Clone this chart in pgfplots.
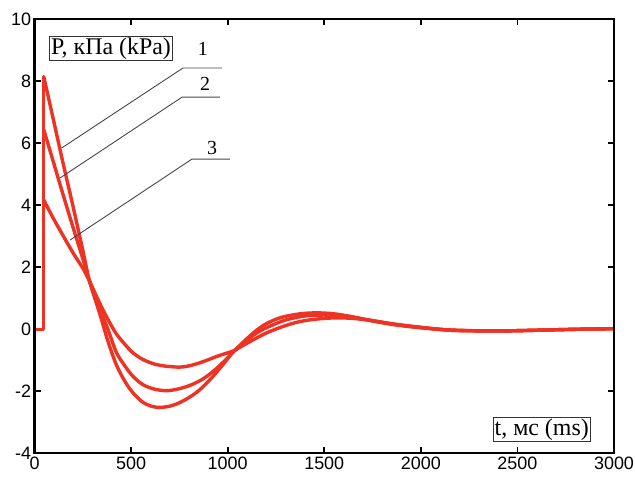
\documentclass[border=0pt]{standalone}
\usepackage{fontspec}
\setmainfont{Liberation Serif}
\setsansfont{Liberation Sans}
\usepackage{pgfplots}
\usepackage{pgfplotstable}
\pgfplotsset{compat=1.18}
\definecolor{curve}{RGB}{238,50,36}
\definecolor{callout}{RGB}{70,70,80}

\pgfplotstableread{
t P
48 8.15
100 6.70
150 5.30
200 3.95
250 2.55
285 1.55
337 0.52
380 -0.38
424 -1.15
470 -1.70
510 -2.05
560 -2.35
610 -2.49
650 -2.52
700 -2.48
750 -2.37
800 -2.20
850 -1.98
900 -1.68
950 -1.33
1000 -0.95
1029 -0.73
1100 -0.30
1150 -0.03
1200 0.18
1275 0.38
1375 0.50
1460 0.53
1550 0.50
1650 0.40
1750 0.27
1850 0.16
1950 0.08
2050 0.02
2150 -0.03
2300 -0.05
2450 -0.05
2600 -0.03
2800 0.00
3000 0.02
}\curveA

\pgfplotstableread{
t P
48 6.44
100 5.35
150 4.30
200 3.28
250 2.28
285 1.55
337 0.68
380 0.00
424 -0.75
470 -1.20
510 -1.52
560 -1.78
620 -1.93
683 -1.98
740 -1.93
800 -1.82
856 -1.66
900 -1.48
950 -1.22
1000 -0.92
1029 -0.73
1100 -0.35
1150 -0.12
1200 0.05
1300 0.30
1400 0.43
1500 0.46
1600 0.42
1700 0.33
1800 0.22
1900 0.13
2000 0.06
2150 -0.03
2300 -0.05
2450 -0.05
2600 -0.03
2800 0.00
3000 0.02
}\curveB

\pgfplotstableread{
t P
48 4.17
100 3.55
150 3.00
200 2.46
250 1.97
285 1.55
337 0.85
380 0.32
424 -0.15
470 -0.50
510 -0.76
560 -0.97
620 -1.12
680 -1.19
752 -1.22
800 -1.18
856 -1.08
900 -0.98
950 -0.86
1000 -0.76
1029 -0.70
1100 -0.45
1200 -0.12
1300 0.12
1375 0.25
1460 0.33
1560 0.37
1650 0.35
1750 0.28
1850 0.18
1950 0.10
2050 0.03
2150 -0.02
2300 -0.05
2450 -0.05
2600 -0.03
2800 0.00
3000 0.02
}\curveC

\begin{document}
\begin{tikzpicture}
\begin{axis}[
  scale only axis, width=579.5bp, height=434bp,
  xmin=0, xmax=3000, ymin=-4, ymax=10,
  xtick={0,500,...,3000}, ytick={-4,-2,...,10},
  tick align=inside, major tick length=6bp,
  axis line style={line width=2.2bp, black},
  tick style={line width=1.8bp, black},
  ticklabel style={font=\fontsize{18}{21}\selectfont\sffamily},
  /pgf/number format/assume math mode=true,
  /pgf/number format/1000 sep={},
  scaled ticks=false,
  minor tick num=0,
]
\coordinate (sw) at (rel axis cs:0,0);
\coordinate (ne) at (rel axis cs:1,1);
\addplot[curve, line width=3.4bp, line join=round, line cap=round] coordinates {(0,0) (48,0) (48,8.15)};
\addplot[curve, line width=3.4bp, smooth, tension=0.5, line join=round, line cap=round] table[x=t,y=P] {\curveC};
\addplot[curve, line width=3.4bp, smooth, tension=0.5, line join=round, line cap=round] table[x=t,y=P] {\curveB};
\addplot[curve, line width=3.4bp, smooth, tension=0.5, line join=round, line cap=round] table[x=t,y=P] {\curveA};
\draw[callout, line width=0.9bp] (axis cs:141,5.85) -- (axis cs:769,8.43) -- (axis cs:971,8.43);
\draw[callout, line width=0.9bp] (axis cs:132,4.88) -- (axis cs:764,7.49) -- (axis cs:960,7.49);
\draw[callout, line width=0.9bp] (axis cs:184,2.88) -- (axis cs:815,5.49) -- (axis cs:1012,5.49);
\node[font=\fontsize{20}{22}\selectfont] at (axis cs:872,9.05) {1};
\node[font=\fontsize{20}{22}\selectfont] at (axis cs:883,7.92) {2};
\node[font=\fontsize{20}{22}\selectfont] at (axis cs:919,5.85) {3};
\node[draw=black!80, line width=0.9bp, inner sep=1.2bp, fill=white, font=\fontsize{24}{26}\selectfont] at (axis cs:396,9.06) {P, кПа (kPa)};
\node[draw=black!80, line width=0.9bp, inner sep=1.2bp, fill=white, font=\fontsize{24}{26}\selectfont] at (axis cs:2626,-3.23) {t, мс (ms)};
\end{axis}
\draw[line width=2.2bp, black] (sw) rectangle (ne);
\pgfresetboundingbox
\path[use as bounding box] ([shift={(-34.5bp,-23.7bp)}]sw) rectangle ([shift={(21bp,19.3bp)}]ne);
\end{tikzpicture}
\end{document}
